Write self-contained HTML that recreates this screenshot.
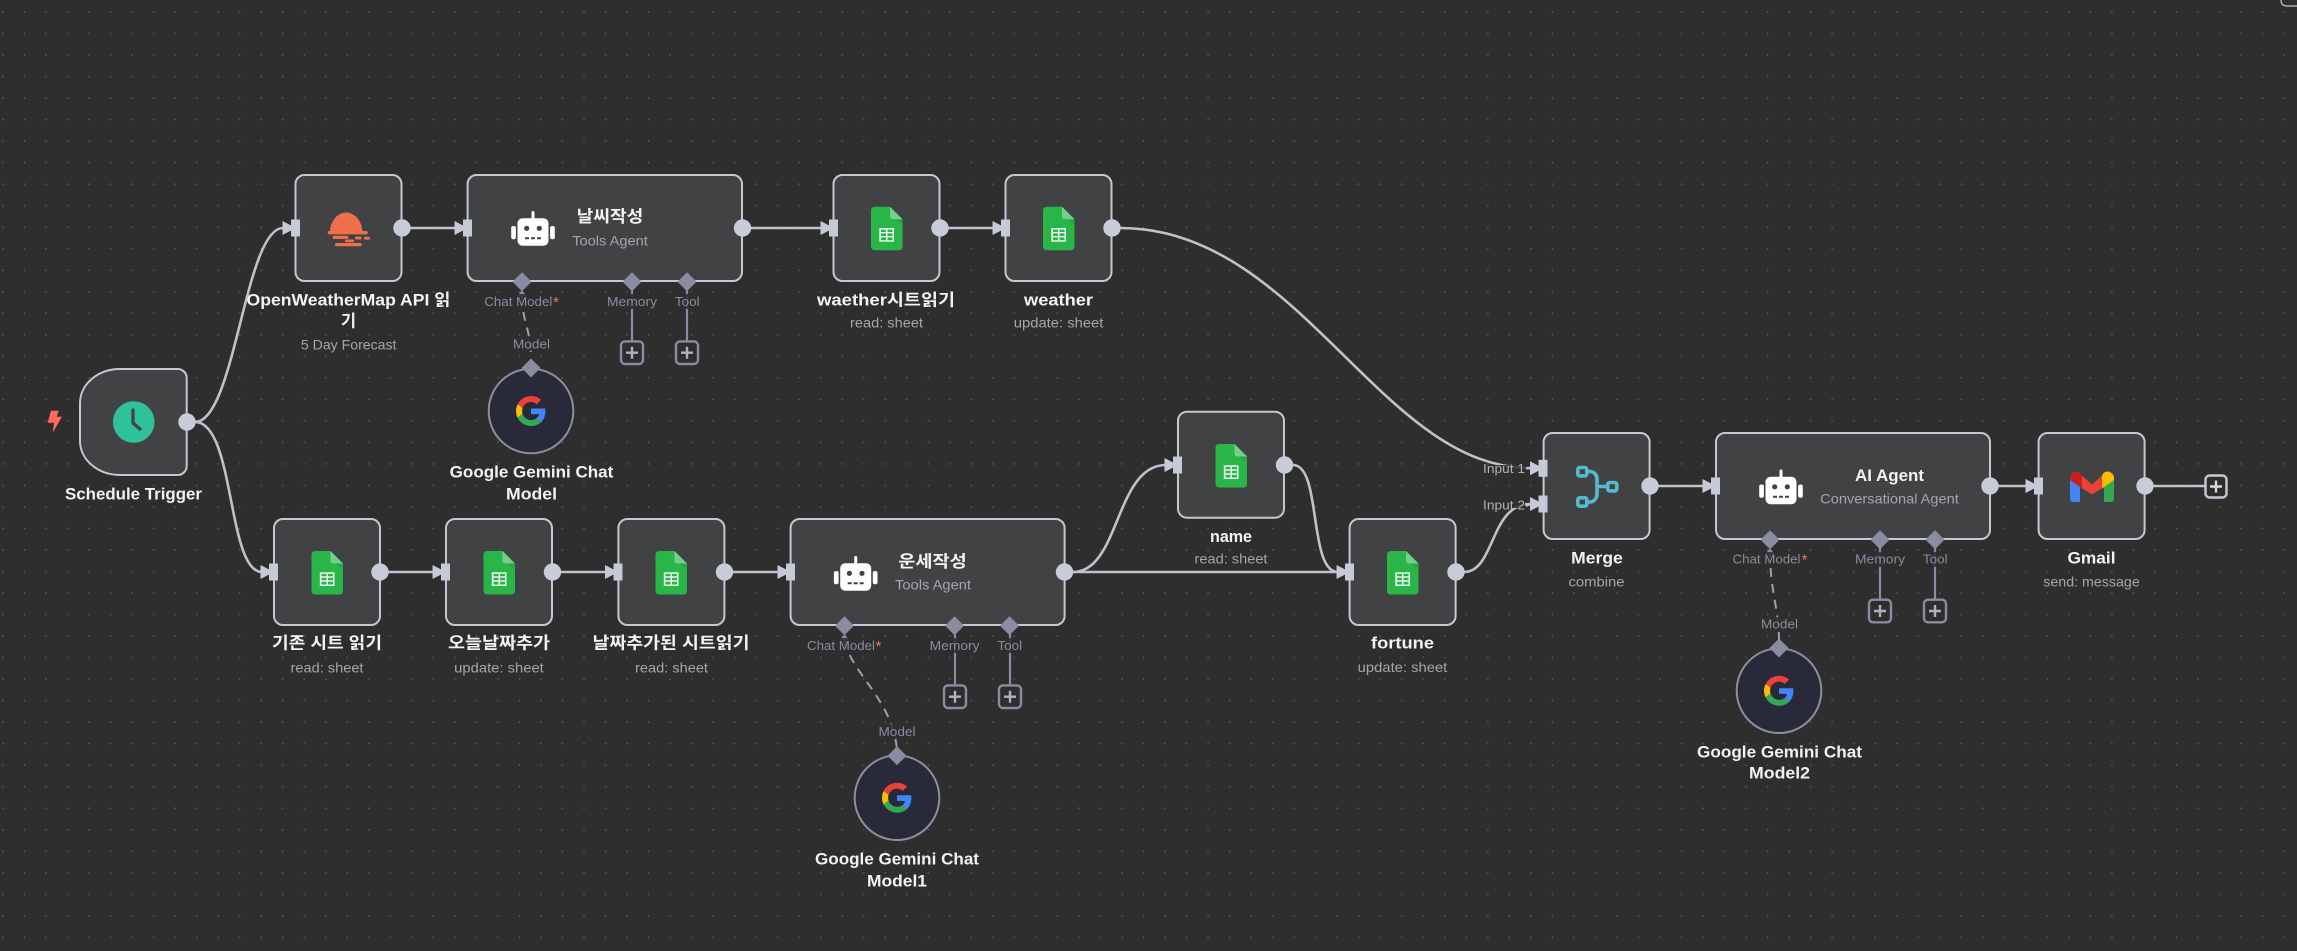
<!DOCTYPE html>
<html><head><meta charset="utf-8"><style>
html,body{margin:0;padding:0;background:#2e2e2e;width:2297px;height:951px;overflow:hidden}
svg{display:block}
text{font-family:"Liberation Sans","Noto Sans CJK KR",sans-serif;text-anchor:middle}
.t{font-size:16.500px;font-weight:700;fill:#f2f2f4}
.s{font-size:14px;fill:#a4a6ad}
.p{font-size:13px;fill:#8b8ba0}
.i{font-size:13px;fill:#b0b2b8}
.n{fill:#414244;stroke:#c5c7d2;stroke-width:2}
.c{fill:none;stroke:#bfc1cb;stroke-width:2.600}
.l{fill:none;stroke:#8b8ba2;stroke-width:2.200}
.d{fill:none;stroke:#a0a0ad;stroke-width:2;stroke-dasharray:9 7}
.b{fill:#2e2e2e;opacity:.85}
</style></head><body>
<svg width="2297" height="951" viewBox="0 0 2297 951" xmlns="http://www.w3.org/2000/svg">
<defs>
<pattern id="dots" patternUnits="userSpaceOnUse" x="-7.800" y="1.240" width="21.520" height="21.520"><circle cx="10.760" cy="10.760" r="0.800" fill="#5e5e5e"/></pattern>
<g id="in"><polygon points="-13.500,-7 0,0 -13.500,7" fill="#c6c9d6"/><rect x="-5" y="-8.500" width="9" height="17" fill="#c6c9d6"/></g>
<circle id="out" r="8.700" fill="#c8ccd8"/>
<polygon id="dia" points="0,-9.500 9.500,0 0,9.500 -9.500,0" fill="#8b8ba2"/>
<g id="plus"><rect x="-11" y="-11.300" width="22" height="22.600" rx="4" fill="#2e2e2e" stroke="#8b8ba2" stroke-width="2.400"/><path d="M0-6V6M-6 0H6" stroke="#b0b0c0" stroke-width="2.400"/></g>
<g id="plusw"><rect x="-10.500" y="-11" width="21" height="22" rx="4" fill="#2e2e2e" stroke="#c6c9d6" stroke-width="2.400"/><path d="M0-6V6M-6 0H6" stroke="#d6d8e0" stroke-width="2.400"/></g>
<g id="sheet">
<path d="M3.500 0H19L31.500 12.500V40a3.500 3.500 0 0 1-3.500 3.500H3.500A3.500 3.500 0 0 1 0 40V3.500A3.500 3.500 0 0 1 3.500 0z" fill="#29b548"/>
<path d="M19 9.500 L31.500 18V12.500H22z" fill="#1f9a3c" opacity=".5"/>
<path d="M19 0L31.500 12.500H22a3 3 0 0 1-3-3z" fill="#72d088"/>
<rect x="8.300" y="21.300" width="14.700" height="13.700" fill="#e9f7ec"/>
<path d="M10 25.300h5v-2.400h-5zM16.500 25.300h5v-2.400h-5zM10 29.300h5v-2.600h-5zM16.500 29.300h5v-2.600h-5zM10 33.500h5v-2.800h-5zM16.500 33.500h5v-2.800h-5z" fill="#29b548"/>
</g>
<g id="robot">
<rect x="-1.500" y="-17.500" width="3" height="9" rx="1.500" fill="#fff"/>
<rect x="-15.500" y="-10.200" width="31" height="27.400" rx="5" fill="#fff"/>
<rect x="-21.800" y="-2.500" width="4.700" height="13.300" rx="2" fill="#fff"/>
<rect x="17.100" y="-2.500" width="4.700" height="13.300" rx="2" fill="#fff"/>
<circle cx="-6.300" cy="-0.200" r="2.600" fill="#414244"/><circle cx="6.300" cy="-0.200" r="2.600" fill="#414244"/>
<path d="M-8 9.800h16" stroke="#414244" stroke-width="2" stroke-dasharray="4 2"/>
</g>
<g id="g" transform="scale(.625)">
<path fill="#EA4335" d="M24 9.500c3.540 0 6.710 1.220 9.210 3.600l6.850-6.850C35.900 2.380 30.470 0 24 0 14.620 0 6.510 5.380 2.560 13.220l7.980 6.190C12.430 13.720 17.740 9.500 24 9.500z"/>
<path fill="#4285F4" d="M46.980 24.550c0-1.570-.15-3.090-.38-4.550H24v9.020h12.940c-.58 2.960-2.260 5.480-4.780 7.180l7.730 6c4.510-4.180 7.090-10.360 7.090-17.650z"/>
<path fill="#FBBC05" d="M10.530 28.590c-.48-1.450-.76-2.990-.76-4.590s.27-3.140.76-4.590l-7.980-6.190C.92 16.460 0 20.120 0 24c0 3.880.92 7.540 2.560 10.780l7.970-6.190z"/>
<path fill="#34A853" d="M24 48c6.480 0 11.930-2.130 15.890-5.810l-7.730-6c-2.150 1.450-4.920 2.300-8.160 2.300-6.260 0-11.570-4.220-13.470-9.910l-7.980 6.190C6.510 42.620 14.620 48 24 48z"/>
</g>
</defs>

<rect width="2297" height="951" fill="#2e2e2e"/>
<rect width="2297" height="951" fill="url(#dots)"/>
<path d="M2281 0Q2281 6 2287 6H2297" fill="none" stroke="#c8c8c8" stroke-width="1.200"/>

<!-- connectors -->
<path class="c" d="M195 422C235 422 245 228 283 228"/>
<path class="c" d="M195 422C235 422 227 572 262 572"/>
<path class="c" d="M410 228H456"/>
<path class="c" d="M751 228H822"/>
<path class="c" d="M948 228H994"/>
<path class="c" d="M1120 228C1300 228 1380 468 1530 468"/>
<path class="c" d="M388 572H434"/>
<path class="c" d="M560 572H606"/>
<path class="c" d="M733 572H779"/>
<path class="c" d="M1073 572C1120 572 1115 465 1166 465"/>
<path class="c" d="M1073 572H1338"/>
<path class="c" d="M1293 465C1322 465 1308 572 1338 572"/>
<path class="c" d="M1464 572C1495 572 1490 504 1530 504"/>
<path class="c" d="M1658 486H1704"/>
<path class="c" d="M1998 486H2027"/>
<path class="c" d="M2153 486H2205"/>

<!-- supply lines -->
<path class="l" d="M632 282V342M687 282V342"/>
<path class="l" d="M955 626V686M1010 626V686"/>
<path class="l" d="M1880 540V600M1935 540V600"/>
<path class="d" d="M522 296C522 322 531 328 531 360"/>
<path class="d" d="M844.500 640C850 672 893 700 897 750"/>
<path class="d" d="M1770 552C1770 590 1779 610 1779 640"/>
<polygon points="522,290 517.500,296 526.500,296" fill="#8b8ba2"/>
<polygon points="844.500,634 840,640 849,640" fill="#8b8ba2"/>
<polygon points="1770,548 1765.500,554 1774.500,554" fill="#8b8ba2"/>

<!-- nodes -->
<path class="n" d="M177.700 369H120A40 34 0 0 0 80 403V441A40 34 0 0 0 120 475H177.700a9 9 0 0 0 9-9V378a9 9 0 0 0-9-9z"/>
<rect class="n" x="295.500" y="175" width="106" height="106" rx="9"/>
<rect class="n" x="467.600" y="175" width="274.400" height="106" rx="9"/>
<rect class="n" x="833.500" y="175" width="106" height="106" rx="9"/>
<rect class="n" x="1005.500" y="175" width="106" height="106" rx="9"/>
<rect class="n" x="274" y="519" width="106" height="106" rx="9"/>
<rect class="n" x="446" y="519" width="106" height="106" rx="9"/>
<rect class="n" x="618.400" y="519" width="106" height="106" rx="9"/>
<rect class="n" x="790.600" y="519" width="274" height="106" rx="9"/>
<rect class="n" x="1178" y="411.700" width="106" height="106" rx="9"/>
<rect class="n" x="1349.600" y="519" width="106" height="106" rx="9"/>
<rect class="n" x="1543.600" y="433" width="106" height="106" rx="9"/>
<rect class="n" x="1716" y="433" width="274" height="106" rx="9"/>
<rect class="n" x="2038.600" y="433" width="106" height="106" rx="9"/>
<circle cx="531" cy="411" r="42.300" fill="#282a39" stroke="#8f8f9c" stroke-width="2"/>
<circle cx="897" cy="797.700" r="42.300" fill="#282a39" stroke="#8f8f9c" stroke-width="2"/>
<circle cx="1779" cy="690.700" r="42.300" fill="#282a39" stroke="#8f8f9c" stroke-width="2"/>

<!-- ports -->
<use href="#in" x="296" y="228"/><use href="#in" x="468" y="228"/><use href="#in" x="834" y="228"/><use href="#in" x="1006" y="228"/>
<use href="#in" x="274" y="572"/><use href="#in" x="446" y="572"/><use href="#in" x="618.500" y="572"/><use href="#in" x="791" y="572"/>
<use href="#in" x="1178" y="465"/><use href="#in" x="1350" y="572"/>
<use href="#in" x="1543.500" y="468.300"/><use href="#in" x="1543.500" y="504"/>
<use href="#in" x="1716" y="486"/><use href="#in" x="2039" y="486"/>
<use href="#out" x="187" y="422"/><use href="#out" x="402" y="228"/><use href="#out" x="742.500" y="228"/><use href="#out" x="940" y="228"/><use href="#out" x="1112" y="228"/>
<use href="#out" x="380" y="572"/><use href="#out" x="552.500" y="572"/><use href="#out" x="724.500" y="572"/><use href="#out" x="1064.500" y="572"/>
<use href="#out" x="1284.500" y="465"/><use href="#out" x="1456" y="572"/><use href="#out" x="1650" y="486"/><use href="#out" x="1990" y="486"/><use href="#out" x="2145" y="486"/>
<use href="#dia" x="522" y="281.700"/><use href="#dia" x="632" y="281.700"/><use href="#dia" x="687" y="281.700"/>
<use href="#dia" x="844.500" y="625.700"/><use href="#dia" x="954.600" y="625.700"/><use href="#dia" x="1009.500" y="625.700"/>
<use href="#dia" x="1770" y="539.700"/><use href="#dia" x="1880" y="539.700"/><use href="#dia" x="1935" y="539.700"/>
<use href="#dia" x="531" y="368"/><use href="#dia" x="897" y="755.700"/><use href="#dia" x="1779" y="648"/>
<use href="#plus" x="632" y="352.700"/><use href="#plus" x="687" y="352.700"/>
<use href="#plus" x="955" y="696.700"/><use href="#plus" x="1010" y="696.700"/>
<use href="#plus" x="1880" y="611"/><use href="#plus" x="1935" y="611"/>
<use href="#plusw" x="2216" y="486.500"/>

<!-- icons -->
<polygon points="51,410.700 58.700,410.700 56.700,416.700 62,416.700 52.700,432.700 54,422.700 47.700,422.700" fill="#ff6b58"/>
<circle cx="133.700" cy="422" r="20.800" fill="#2fc199"/>
<path d="M133 410V423L140 429" fill="none" stroke="#414244" stroke-width="3.300" stroke-linecap="round" stroke-linejoin="round"/>
<g fill="#ee6f4a">
<path d="M330 232A16.150 19.500 0 0 1 362.300 232z"/>
<rect x="327.700" y="231" width="40" height="3.400" rx="1.700"/>
<rect x="332.700" y="235.700" width="15.600" height="3.300" rx="1.600"/>
<rect x="345" y="239.500" width="9" height="2.800" rx="1.300"/>
<rect x="355" y="236.500" width="6.500" height="3" rx="1.500"/>
<rect x="364" y="236.800" width="6" height="2.800" rx="1.400"/>
<rect x="335" y="243" width="26.700" height="3.200" rx="1.600"/>
</g>
<use href="#robot" x="533" y="228.500"/>
<use href="#robot" x="855.700" y="573.500"/>
<use href="#robot" x="1781" y="487"/>
<use href="#sheet" x="871" y="206.700"/><use href="#sheet" x="1043" y="206.700"/>
<use href="#sheet" x="311.500" y="551"/><use href="#sheet" x="483.500" y="551"/><use href="#sheet" x="655.500" y="551"/>
<use href="#sheet" x="1215.500" y="444"/><use href="#sheet" x="1387" y="551"/>
<use href="#g" x="516" y="396"/><use href="#g" x="882" y="782.700"/><use href="#g" x="1764" y="675.700"/>
<g fill="none" stroke="#55b9d1" stroke-width="3.600">
<rect x="1577.800" y="467.500" width="9" height="8.400" rx="2"/>
<rect x="1577.800" y="497.800" width="9" height="8.400" rx="2"/>
<rect x="1607.800" y="482.500" width="9" height="8.400" rx="2"/>
<path d="M1587 471.500H1590C1594 471.500 1597 475 1597 479V494C1597 498 1594 502 1590 502H1587M1597 486.500H1607.500"/>
</g>
<path d="M2070 480V499a3 3 0 0 0 3 3h7V484z" fill="#4285f4"/>
<path d="M2114 480V499a3 3 0 0 1-3 3h-7V484z" fill="#34a853"/>
<polygon points="2080,474 2092,484.500 2104,474 2104,487 2092,494.500 2080,487" fill="#ea4335"/>
<path d="M2070 478a6.500 6.500 0 0 1 10.500-5L2082 475.500V488.500L2070 480z" fill="#c5221f"/>
<path d="M2114 478a6.500 6.500 0 0 0-10.500-5L2102 475.500V488.500L2114 480z" fill="#fbbc04"/>

<!-- labels -->
<text class="t" x="133.500" y="499.500" textLength="137" lengthAdjust="spacingAndGlyphs">Schedule Trigger</text>
<text class="t" x="348.500" y="305.500" textLength="204" lengthAdjust="spacingAndGlyphs">OpenWeatherMap API 읽</text>
<text class="t" x="348.500" y="326.500">기</text>
<text class="s" x="348.700" y="349.500" textLength="95.500" lengthAdjust="spacingAndGlyphs">5 Day Forecast</text>
<text class="t" x="610" y="222" textLength="66.700" lengthAdjust="spacingAndGlyphs">날씨작성</text>
<text class="s" x="610" y="245.500" textLength="75.500" lengthAdjust="spacingAndGlyphs">Tools Agent</text>
<text class="t" x="886" y="305.500" textLength="138" lengthAdjust="spacingAndGlyphs">waether시트읽기</text>
<text class="s" x="886.500" y="327.500" textLength="73" lengthAdjust="spacingAndGlyphs">read: sheet</text>
<text class="t" x="1058.500" y="305.500" textLength="69" lengthAdjust="spacingAndGlyphs">weather</text>
<text class="s" x="1058.600" y="327.500" textLength="89.600" lengthAdjust="spacingAndGlyphs">update: sheet</text>
<text class="t" x="531.500" y="477.500" textLength="163.600" lengthAdjust="spacingAndGlyphs">Google Gemini Chat</text>
<text class="t" x="531.500" y="499.500" textLength="51" lengthAdjust="spacingAndGlyphs">Model</text>
<text class="t" x="327" y="648.500" textLength="110" lengthAdjust="spacingAndGlyphs">기존 시트 읽기</text>
<text class="s" x="327" y="672.500" textLength="73" lengthAdjust="spacingAndGlyphs">read: sheet</text>
<text class="t" x="499" y="648.500" textLength="102" lengthAdjust="spacingAndGlyphs">오늘날짜추가</text>
<text class="s" x="499" y="672.500" textLength="89.600" lengthAdjust="spacingAndGlyphs">update: sheet</text>
<text class="t" x="671" y="648.500" textLength="157" lengthAdjust="spacingAndGlyphs">날짜추가된 시트읽기</text>
<text class="s" x="671.500" y="672.500" textLength="73" lengthAdjust="spacingAndGlyphs">read: sheet</text>
<text class="t" x="932.500" y="567" textLength="68.500" lengthAdjust="spacingAndGlyphs">운세작성</text>
<text class="s" x="933" y="589.500" textLength="76" lengthAdjust="spacingAndGlyphs">Tools Agent</text>
<text class="t" x="897" y="864.500" textLength="164" lengthAdjust="spacingAndGlyphs">Google Gemini Chat</text>
<text class="t" x="897" y="886.500" textLength="60" lengthAdjust="spacingAndGlyphs">Model1</text>
<text class="t" x="1231" y="542" textLength="42" lengthAdjust="spacingAndGlyphs">name</text>
<text class="s" x="1231" y="563.500" textLength="73" lengthAdjust="spacingAndGlyphs">read: sheet</text>
<text class="t" x="1402.500" y="648.500" textLength="63" lengthAdjust="spacingAndGlyphs">fortune</text>
<text class="s" x="1402.500" y="672" textLength="89.600" lengthAdjust="spacingAndGlyphs">update: sheet</text>
<text class="t" x="1597" y="563.500" textLength="51.600" lengthAdjust="spacingAndGlyphs">Merge</text>
<text class="s" x="1596.500" y="586.500" textLength="56" lengthAdjust="spacingAndGlyphs">combine</text>
<text class="t" x="1889.500" y="481" textLength="69" lengthAdjust="spacingAndGlyphs">AI Agent</text>
<text class="s" x="1889.500" y="503.500" textLength="138.600" lengthAdjust="spacingAndGlyphs">Conversational Agent</text>
<text class="t" x="2091.500" y="563.500" textLength="48" lengthAdjust="spacingAndGlyphs">Gmail</text>
<text class="s" x="2091.500" y="586.500" textLength="96.500" lengthAdjust="spacingAndGlyphs">send: message</text>
<text class="t" x="1779.500" y="757.500" textLength="165" lengthAdjust="spacingAndGlyphs">Google Gemini Chat</text>
<text class="t" x="1779.500" y="778.500" textLength="61" lengthAdjust="spacingAndGlyphs">Model2</text>

<rect class="b" x="1483" y="465" width="44" height="11"/>
<rect class="b" x="1483" y="497" width="42" height="11"/>
<text class="i" x="1504" y="473" textLength="42" lengthAdjust="spacingAndGlyphs">Input 1</text>
<text class="i" x="1504" y="509.500" textLength="42" lengthAdjust="spacingAndGlyphs">Input 2</text>
<path d="M1526 468.300H1531M1526 506L1531 504" stroke="#c6c9d6" stroke-width="1.800"/>

<g class="b">
<rect x="484" y="294" width="76" height="15"/><rect x="607" y="294" width="50" height="15"/><rect x="675" y="294" width="25" height="15"/><rect x="513" y="337" width="37" height="14"/>
<rect x="807" y="638" width="76" height="15"/><rect x="929" y="638" width="51" height="15"/><rect x="997" y="638" width="25" height="15"/><rect x="878" y="724" width="37" height="15"/>
<rect x="1732" y="552" width="76" height="15"/><rect x="1855" y="552" width="50" height="15"/><rect x="1923" y="552" width="25" height="15"/><rect x="1761" y="617" width="37" height="15"/>
</g>
<text class="p" x="518.300" y="306" textLength="68" lengthAdjust="spacingAndGlyphs">Chat Model</text><text x="556" y="307" style="font-size:15px;fill:#ff6b6b">*</text>
<text class="p" x="632" y="306" textLength="50" lengthAdjust="spacingAndGlyphs">Memory</text>
<text class="p" x="687.300" y="306" textLength="24.700" lengthAdjust="spacingAndGlyphs">Tool</text>
<text class="p" x="531.500" y="348.500" textLength="37" lengthAdjust="spacingAndGlyphs">Model</text>

<text class="p" x="841" y="650" textLength="68" lengthAdjust="spacingAndGlyphs">Chat Model</text><text x="878.500" y="651" style="font-size:15px;fill:#ff6b6b">*</text>
<text class="p" x="954.600" y="650" textLength="50" lengthAdjust="spacingAndGlyphs">Memory</text>
<text class="p" x="1009.800" y="650" textLength="24.700" lengthAdjust="spacingAndGlyphs">Tool</text>
<text class="p" x="897" y="736" textLength="37" lengthAdjust="spacingAndGlyphs">Model</text>

<text class="p" x="1766.500" y="563.500" textLength="68" lengthAdjust="spacingAndGlyphs">Chat Model</text><text x="1804.500" y="564.500" style="font-size:15px;fill:#ff6b6b">*</text>
<text class="p" x="1880" y="563.500" textLength="50" lengthAdjust="spacingAndGlyphs">Memory</text>
<text class="p" x="1935.300" y="563.500" textLength="24.700" lengthAdjust="spacingAndGlyphs">Tool</text>
<text class="p" x="1779.500" y="628.500" textLength="37" lengthAdjust="spacingAndGlyphs">Model</text>
</svg>
</body></html>
